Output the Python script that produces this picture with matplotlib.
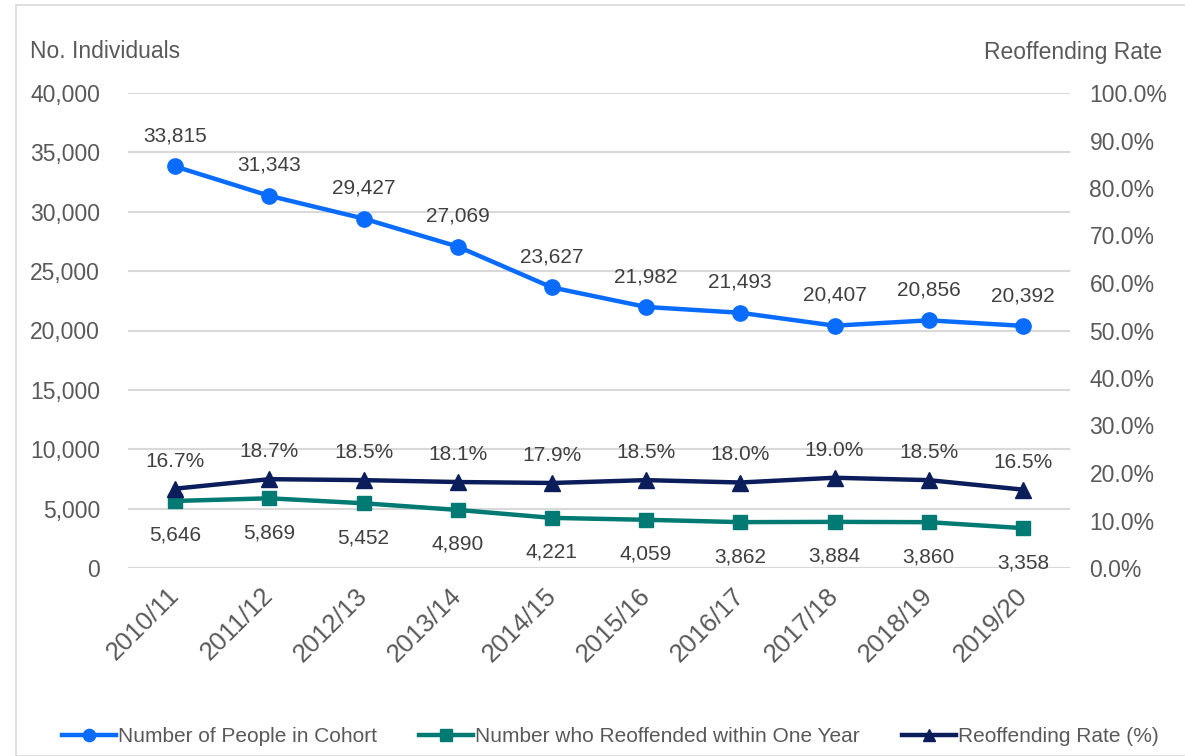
import matplotlib
matplotlib.use("Agg")
import matplotlib.pyplot as plt
from matplotlib.patches import Rectangle
from matplotlib.ticker import FuncFormatter, MultipleLocator
from matplotlib.transforms import ScaledTranslation

plt.rcParams['font.family'] = ['Liberation Sans', 'DejaVu Sans']

years = ["2010/11", "2011/12", "2012/13", "2013/14", "2014/15",
         "2015/16", "2016/17", "2017/18", "2018/19", "2019/20"]
cohort = [33815, 31343, 29427, 27069, 23627, 21982, 21493, 20407, 20856, 20392]
reoffended = [5646, 5869, 5452, 4890, 4221, 4059, 3862, 3884, 3860, 3358]
rate = [16.7, 18.7, 18.5, 18.1, 17.9, 18.5, 18.0, 19.0, 18.5, 16.5]

c_blue = "#0A6CFF"
c_teal = "#007A72"
c_navy = "#0B1E5B"
c_text = "#595959"
c_lab = "#404040"
c_grid = "#D9D9D9"

W, H = 1185, 756
fig = plt.figure(figsize=(W/100, H/100), dpi=100)
fig.patches.append(Rectangle((16/W, 0), 1.2, (H-5)/H, transform=fig.transFigure,
                             fill=False, edgecolor="#D9D9D9", linewidth=1.2))

left, right = 128/W, 1070/W
bottom, top = 1 - 568/H, 1 - 93/H
ax = fig.add_axes([left, bottom, right-left, top-bottom])
ax2 = ax.twinx()

x = list(range(len(years)))
ax.set_xlim(-0.5, len(years)-0.5)
ax.set_ylim(0, 40000)
ax2.set_ylim(0, 100)
ax.yaxis.set_major_locator(MultipleLocator(5000))
ax2.yaxis.set_major_locator(MultipleLocator(10))
ax.yaxis.set_major_formatter(FuncFormatter(lambda v, p: f"{int(v):,}"))
ax2.yaxis.set_major_formatter(FuncFormatter(lambda v, p: f"{v:.1f}%"))
ax.grid(axis='y', color=c_grid, linewidth=1.5)
ax.set_axisbelow(True)
for a in (ax, ax2):
    for s in a.spines.values():
        s.set_visible(False)
    a.tick_params(length=0, labelsize=16.5, labelcolor=c_text)
ax.tick_params(axis='y', pad=20)
ax2.tick_params(axis='y', pad=14)
ax.set_xticks(x)
ax.set_xticklabels(years, rotation=45, ha='right', rotation_mode='anchor')
ax.tick_params(axis='x', pad=11, labelsize=18.5)
shift = ScaledTranslation(-8/100, 0, fig.dpi_scale_trans)
for lab in ax.get_xticklabels():
    lab.set_transform(lab.get_transform() + shift)

l1, = ax.plot(x, cohort, color=c_blue, lw=3.2, marker='o', ms=11, label="Number of People in Cohort")
l2, = ax.plot(x, reoffended, color=c_teal, lw=3.2, marker='s', ms=10, label="Number who Reoffended within One Year")
l3, = ax2.plot(x, rate, color=c_navy, lw=3.2, marker='^', ms=11, label="Reoffending Rate (%)")

for xi, v in zip(x, cohort):
    ax.annotate(f"{v:,}", (xi, v), xytext=(0, 15), textcoords='offset points',
                ha='center', va='bottom', fontsize=15, color=c_lab)
for xi, v in zip(x, reoffended):
    ax.annotate(f"{v:,}", (xi, v), xytext=(0, -18), textcoords='offset points',
                ha='center', va='top', fontsize=15, color=c_lab)
for xi, v in zip(x, rate):
    ax2.annotate(f"{v:.1f}%", (xi, v), xytext=(0, 13), textcoords='offset points',
                 ha='center', va='bottom', fontsize=15, color=c_lab)

fig.text(30/W, 1 - 52/H, "No. Individuals", ha='left', va='center', fontsize=16.5, color=c_text)
fig.text(1162/W, 1 - 52/H, "Reoffending Rate", ha='right', va='center', fontsize=16.5, color=c_text)

fig.legend(handles=[l1, l2, l3], loc='center', bbox_to_anchor=(0.515, 1 - 737/H),
           ncol=3, frameon=False, fontsize=15, labelcolor=c_text, markerscale=0.8,
           handlelength=2.6, handletextpad=0.1, columnspacing=2.0, borderaxespad=0)

fig.savefig("out.png", dpi=100)
